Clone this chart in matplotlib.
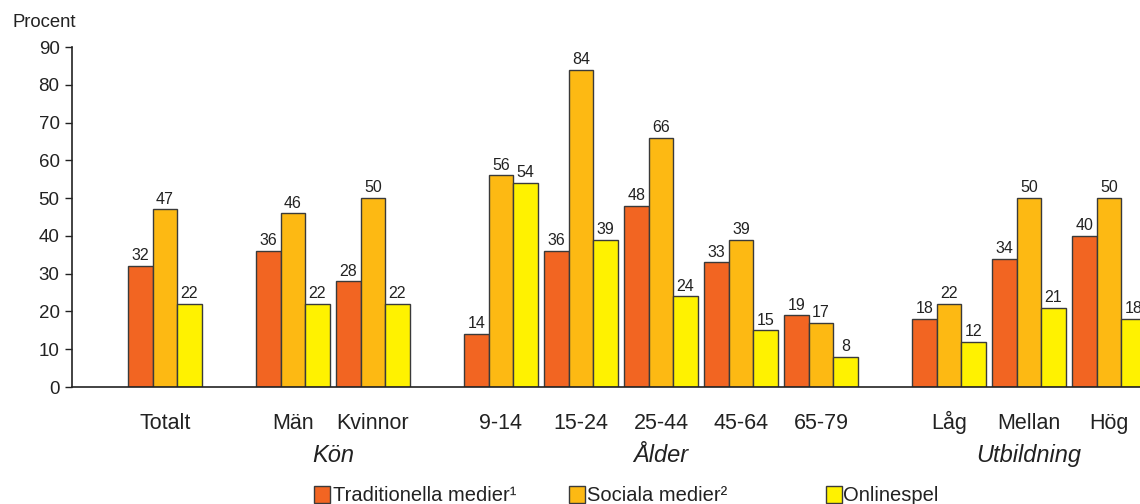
import matplotlib
matplotlib.use("Agg")
import matplotlib.pyplot as plt
from matplotlib.patches import Rectangle

plt.rcParams['font.family'] = ['Liberation Sans', 'DejaVu Sans']

categories = ["Totalt", "Män", "Kvinnor", "9-14", "15-24", "25-44", "45-64", "65-79", "Låg", "Mellan", "Hög"]
group_names = ["Kön", "Ålder", "Utbildning"]
series_names = ["Traditionella medier¹", "Sociala medier²", "Onlinespel"]
traditionella = [32, 36, 28, 14, 36, 48, 33, 19, 18, 34, 40]
sociala = [47, 46, 50, 56, 84, 66, 39, 17, 22, 50, 50]
onlinespel = [22, 22, 22, 54, 39, 24, 15, 8, 12, 21, 18]
yticks = [0, 10, 20, 30, 40, 50, 60, 70, 80, 90]

colors = ["#F26522", "#FDB913", "#FFF200"]
edge = "#3a3a3a"
ink = "#222222"

W, H = 1140, 504

# x positions: one slot per category, wider gaps between blocks
block_of = [0, 1, 1, 2, 2, 2, 2, 2, 3, 3, 3]
x = []
pos = 0.0
prev = None
for b in block_of:
    if prev is not None:
        pos += 1.6 if b != prev else 1.0
    x.append(pos)
    prev = b

fig = plt.figure(figsize=(W / 100, H / 100), dpi=100)
ax = fig.add_axes([72 / W, 1 - 387 / H, 1 - 72 / W, (387 - 47) / H])

w = 0.306
for k, vals in enumerate([traditionella, sociala, onlinespel]):
    xs = [xi + (k - 1) * w for xi in x]
    ax.bar(xs, vals, width=w, color=colors[k], edgecolor=edge, linewidth=1.0, zorder=2)
    for xi, v in zip(xs, vals):
        ax.text(xi, v + 1.5, str(v), ha="center", va="baseline", fontsize=11.5, color=ink)

ax.set_xlim(-1.1625, 12.1875)
ax.set_ylim(0, 90)
ax.set_yticks(yticks)
ax.tick_params(axis="y", direction="out", length=5, width=1, labelsize=13.5, pad=4, colors=ink)
ax.set_xticks([])
for s in ["top", "right"]:
    ax.spines[s].set_visible(False)
ax.spines["left"].set_bounds(0, 90)
for s in ["left", "bottom"]:
    ax.spines[s].set_linewidth(1.2)
    ax.spines[s].set_color(ink)

# category labels under the axis
for xi, c in zip(x, categories):
    ax.text(xi, -11.1, c, ha="center", va="baseline", fontsize=15.5, color=ink, clip_on=False)

# block labels in italics
blocks = [[1, 2], [3, 4, 5, 6, 7], [8, 9, 10]]
for name, idx in zip(group_names, blocks):
    cx = (x[idx[0]] + x[idx[-1]]) / 2
    ax.text(cx, -19.8, name, ha="center", va="baseline", fontsize=17, style="italic",
            color=ink, clip_on=False)

fig.text(12.5 / W, 1 - 26.7 / H, "Procent", ha="left", va="baseline", fontsize=13.3, color=ink)

# legend row
leg_items = [(314, 333), (569, 587), (826, 843)]
for (sx, tx), col, name in zip(leg_items, colors, series_names):
    fig.patches.append(Rectangle((sx / W, 1 - 503 / H), 16 / W, 17.5 / H,
                                 transform=fig.transFigure, facecolor=col,
                                 edgecolor=edge, linewidth=1.0))
    fig.text(tx / W, 1 - 500.7 / H, name, ha="left", va="baseline", fontsize=14.5, color=ink)

fig.savefig("out.png", dpi=100)
